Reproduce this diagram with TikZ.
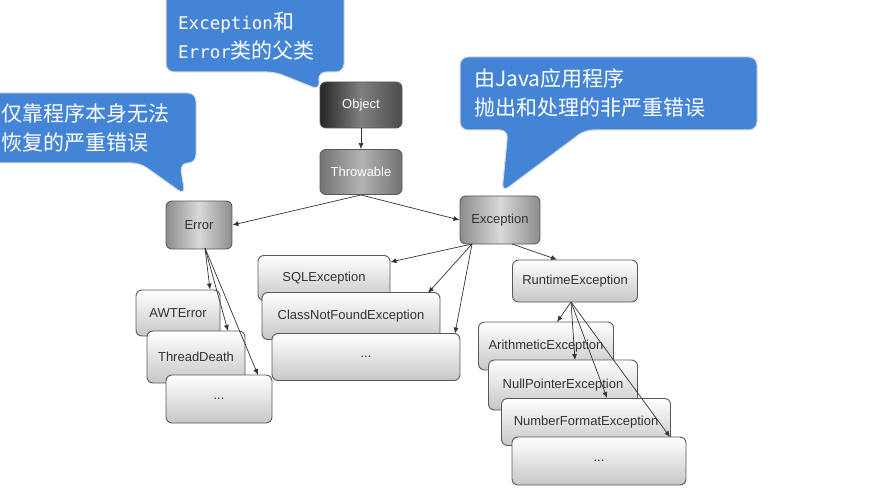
\documentclass[tikz,border=0pt]{standalone}
\usepackage{fontspec}
\setmainfont{Liberation Sans}
\setmonofont{DejaVu Sans Mono}
\newfontfamily\cjk{Noto Sans CJK SC}
\usetikzlibrary{arrows.meta}

\definecolor{calloutblue}{RGB}{68,132,214}

\tikzset{
  box/.style={draw=black!65, line width=0.9pt, rounded corners=6pt, inner sep=0pt, font=\fontsize{13}{15}\selectfont, text=black!80},
  leaf/.style={box, top color=white, bottom color=black!22},
  mid/.style={box, left color=black!45, right color=black!45, middle color=black!15},
  dark/.style={box, left color=black!85, right color=black!70, middle color=black!50, text=white},
  link/.style={-{Latex[length=6pt,width=5pt]}, black!80, line width=0.7pt},
  callout/.style={fill=calloutblue, draw=black!15, line width=1pt, rounded corners=8pt},
  note/.style={text=white, align=left, inner sep=0pt, font=\cjk\fontsize{21}{29}\selectfont},
}

\begin{document}
\begin{tikzpicture}[x=1pt,y=-1pt]
\useasboundingbox (0,0) rectangle (892,500);

% callouts
\filldraw[callout] (166,-10) -- (344,-10) -- (344,72) -- (318,72) -- (320,90) -- (275,72) -- (166,72) -- cycle;
\filldraw[callout] (-10,93) -- (196,93) -- (196,163) -- (180,163) -- (185,195) -- (140,163) -- (-10,163) -- cycle;
\filldraw[callout] (460,57) -- (757,57) -- (757,130) -- (585,130) -- (502,192) -- (508,130) -- (460,130) -- cycle;
\node[note, anchor=west] (noteObj) at (178,36) {{\ttfamily\fontsize{17.5}{29}\selectfont Exception}和\\{\ttfamily\fontsize{17.5}{29}\selectfont Error}类的父类};
\node[note, anchor=west] (noteErr) at (1,128) {仅靠程序本身无法\\恢复的严重错误};
\node[note, anchor=west] (noteExc) at (474,93) {由Java应用程序\\抛出和处理的非严重错误};

% hierarchy
\node[dark, minimum width=82pt, minimum height=46pt] (obj) at (361,105) {Object};
\node[mid, minimum width=82pt, minimum height=45pt, left color=black!55, right color=black!55, middle color=black!30, text=white] (thr) at (361,172) {Throwable};
\node[mid, minimum width=66pt, minimum height=48pt] (err) at (199,225) {Error};
\node[mid, minimum width=80pt, minimum height=48pt] (exc) at (500,220) {Exception};

\node[leaf, minimum width=84pt, minimum height=46pt] (awt) at (178,313) {AWTError};
\node[leaf, minimum width=98pt, minimum height=52pt] (thd) at (196,357) {ThreadDeath};
\node[leaf, minimum width=106pt, minimum height=48pt] (errMore) at (219,399) {...};

\node[leaf, minimum width=132pt, minimum height=45pt] (sql) at (324,278) {SQLException};
\node[leaf, minimum width=178pt, minimum height=47pt] (cnf) at (351,316) {ClassNotFoundException};
\node[leaf, minimum width=188pt, minimum height=47pt] (excMore) at (366,357) {...};

\node[leaf, minimum width=125pt, minimum height=42pt] (rte) at (575,281) {RuntimeException};
\node[leaf, minimum width=135pt, minimum height=48pt] (ari) at (546,346) {ArithmeticException};
\node[leaf, minimum width=149pt, minimum height=50pt] (npe) at (563,385) {NullPointerException};
\node[leaf, minimum width=169pt, minimum height=47pt] (nfe) at (586,422) {NumberFormatException};
\node[leaf, minimum width=174pt, minimum height=48pt] (rteMore) at (599,461) {...};

\draw[link] (obj) -- (thr);
\draw[link] (thr.south) -- (err.east);
\draw[link] (thr.south) -- (exc.west);

\coordinate (errFoot) at (205,248);
\draw[link] (errFoot) -- (awt.north -| 210,0);
\draw[link] (errFoot) -- (228,331);
\draw[link] (errFoot) -- (258,375);

\coordinate (excFoot) at (472,244);
\draw[link] (excFoot) -- (sql.north east |- 0,262);
\draw[link] (excFoot) -- (428,293);
\draw[link] (excFoot) -- (455,333.5);
\draw[link] (512,244) -- (rte.north -| 557,0);

\coordinate (rteFoot) at (571,302);
\draw[link] (rteFoot) -- (557,322);
\draw[link] (rteFoot) -- (575,360);
\draw[link] (rteFoot) -- (607,398);
\draw[link] (rteFoot) -- (670,437);
\end{tikzpicture}
\end{document}
